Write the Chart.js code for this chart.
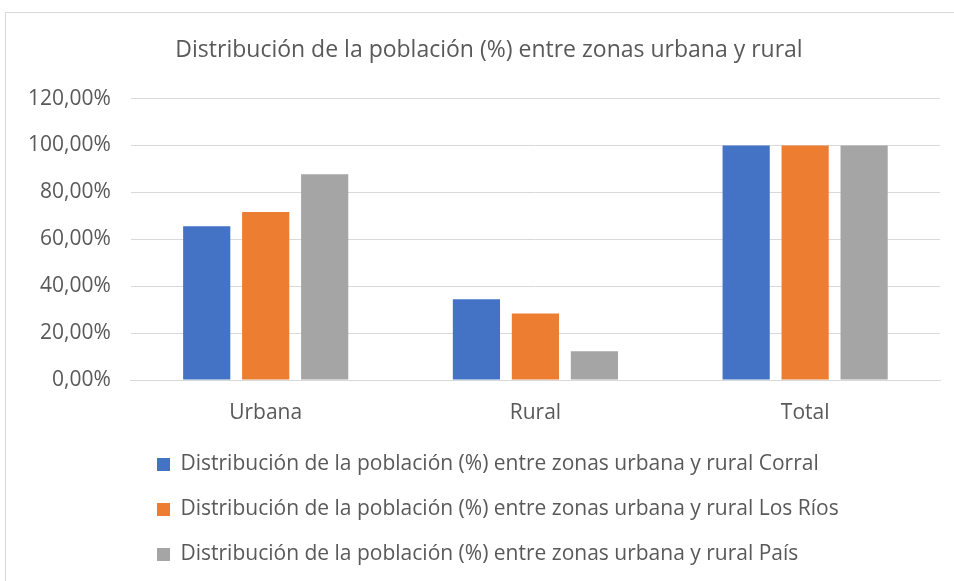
<!DOCTYPE html>
<html>
<head>
<meta charset="utf-8">
<script src="https://cdn.jsdelivr.net/npm/chart.js@4"></script>
<style>
  html, body { margin: 0; padding: 0; background: #fff; overflow: hidden; }
  #marco { position: absolute; left: 5px; top: 12px; right: -2px; bottom: -2px; border: 1px solid #d9d9d9; }
  #wrap { position: absolute; left: 0; top: 0; width: 954px; height: 581px; }
</style>
</head>
<body>
<div id="marco"></div>
<div id="wrap"><canvas id="grafico"></canvas></div>
<script>
/* Datos */

const titulo = "Distribución de la población (%) entre zonas urbana y rural";
const zonas = ["Urbana", "Rural", "Total"];
const corral = [65.6, 34.4, 100];
const losRios = [71.6, 28.4, 100];
const pais = [87.7, 12.3, 100];
const ticksY = [0, 20, 40, 60, 80, 100, 120];

const fuente = "Open Sans";
const gris = "#595959";

/* mover leyenda y título a su lugar */
const moverBloques = {
    id: "moverBloques",
    afterLayout(chart) {
        if (chart.legend) chart.legend.left = 133;
        if (chart.titleBlock) chart.titleBlock.left = 38;
    }
};

const config = {
    type: "bar",
    data: {
        labels: zonas,
        datasets: [
            { label: titulo + " Corral", data: corral, backgroundColor: "#4472c4" },
            { label: titulo + " Los Ríos", data: losRios, backgroundColor: "#ed7d31" },
            { label: titulo + " País", data: pais, backgroundColor: "#a5a5a5" }
        ]
    },
    options: {
        responsive: false,
        animation: false,
        devicePixelRatio: 1,
        categoryPercentage: 0.656,
        barPercentage: 0.8,
        layout: { padding: { top: 10, left: 8, right: 14, bottom: 6 } },
        plugins: {
            title: {
                display: true,
                text: titulo,
                color: gris,
                font: { family: fuente, size: 23, weight: "normal" },
                padding: { top: 27, bottom: 34 }
            },
            legend: {
                position: "bottom",
                align: "start",
                labels: {
                    color: gris,
                    font: { family: fuente, size: 21 },
                    boxWidth: 13,
                    boxHeight: 13,
                    padding: 24
                }
            },
            tooltip: { enabled: false }
        },
        scales: {
            x: {
                grid: { display: false },
                border: { color: "#d9d9d9" },
                ticks: { color: gris, font: { family: fuente, size: 21 }, padding: 12 },
                afterFit: (scale) => { scale.height = 50; }
            },
            y: {
                min: 0,
                max: 120,
                afterBuildTicks: (scale) => { scale.ticks = ticksY.map(v => ({ value: v })); },
                grid: { color: "#d9d9d9", drawTicks: false },
                border: { display: false },
                ticks: {
                    color: gris,
                    font: { family: fuente, size: 21 },
                    padding: 20,
                    callback: (v) => v.toFixed(2).replace(".", ",") + "%"
                }
            }
        }
    },
    plugins: [moverBloques]
};

const lienzo = document.getElementById("grafico");
lienzo.width = 954;
lienzo.height = 581;
new Chart(lienzo, config);
</script>
</body>
</html>
